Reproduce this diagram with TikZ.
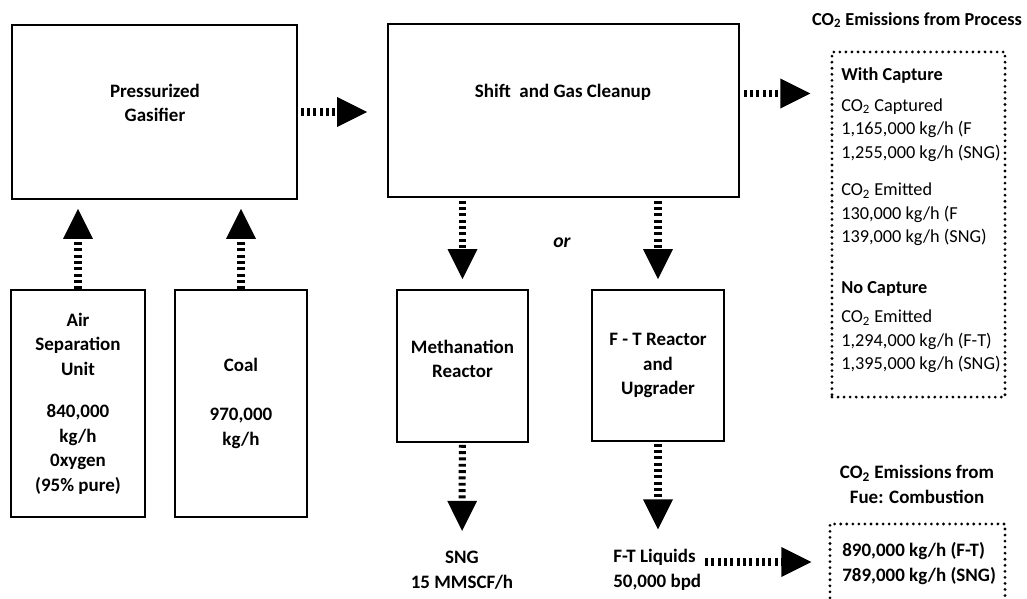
\documentclass[tikz,border=0pt]{standalone}
\usepackage{fontspec}
\setmainfont{Carlito}
\usetikzlibrary{arrows.meta,positioning,calc}

\tikzset{
    procbox/.style={draw, line width=1.1pt, inner sep=0pt},
    boxtext/.style={font=\bfseries\fontsize{13.5}{17.4}\selectfont, align=center, inner sep=0pt},
    paneltext/.style={font=\fontsize{13}{16.7}\selectfont, align=left, inner sep=0pt},
    dotpanel/.style={draw, line width=2.2pt, line cap=round, dash pattern=on 0pt off 4.3pt, inner sep=0pt},
    flow/.style={line width=5pt, dash pattern=on 2.1pt off 2.4pt,
        -{Triangle[length=0.75cm, width=0.75cm, line width=0pt]}},
}

\begin{document}
\begin{tikzpicture}[x=0.025cm, y=-0.025cm]
    \clip (0,0) rectangle (1027,599);

    % Gasification boxes
    \node[procbox, minimum width=7.125cm, minimum height=4.35cm] (gasifier) at (154.5,112) {};
    \node[boxtext] (gasifiertext) at (155,103) {Pressurized\\Gasifier};
    \node[procbox, minimum width=8.775cm, minimum height=4.325cm] (shift) at (563.5,110.5) {};
    \node[boxtext] (shifttext) at (563,92) {Shift~ and Gas Cleanup};

    % Feeds
    \node[procbox, boxtext, minimum width=3.35cm, minimum height=5.675cm] (asu) at (78,403.5)
        {Air\\Separation\\Unit\\[13pt]840,000\\kg/h\\0xygen\\(95\% pure)};
    \node[procbox, boxtext, minimum width=3.3cm, minimum height=5.675cm] (coal) at (241,403.5)
        {Coal\\[17.4pt]970,000\\kg/h};

    % Reactors
    \node[procbox, minimum width=3.275cm, minimum height=3.8cm] (methanation) at (462.5,366) {};
    \node[boxtext] (methanationtext) at (462.5,359) {Methanation\\Reactor};
    \node[procbox, boxtext, minimum width=3.3cm, minimum height=3.775cm] (ftreactor) at (658,365.5)
        {F - T Reactor\\and\\Upgrader};
    \node[font=\bfseries\itshape\fontsize{14}{16}\selectfont, inner sep=0pt] (ortext) at (562,243) {or};

    % Products
    \node[boxtext] (sng) at (462,570) {SNG\\15 MMSCF/h};
    \node[boxtext, align=left, anchor=west] (ftliquids) at (613,570) {F-T Liquids\\50,000 bpd};

    % CO2 from process
    \node[boxtext, font=\bfseries\fontsize{13}{16}\selectfont] (processtitle) at (917,20)
        {CO\textsubscript{2} Emissions from Process};
    \node[dotpanel, minimum width=4.325cm, minimum height=8.625cm] (process) at (918.5,224.5) {};
    \node[paneltext, anchor=north west] (processtext) at (841,67)
        {\textbf{With Capture}\\[5.3pt]
         CO\textsubscript{2} Captured\\
         1,165,000 kg/h (F\\
         1,255,000 kg/h (SNG)\\[10.3pt]
         CO\textsubscript{2} Emitted\\
         130,000 kg/h (F\\
         139,000 kg/h (SNG)\\[19.6pt]
         \textbf{No Capture}\\[3.9pt]
         CO\textsubscript{2} Emitted\\
         1,294,000 kg/h (F-T)\\
         1,395,000 kg/h (SNG)};

    % CO2 from fuel combustion
    \node[boxtext, font=\bfseries\fontsize{13.5}{17.8}\selectfont] (combustiontitle) at (917,484)
        {CO\textsubscript{2} Emissions from\\Fue: Combustion};
    \node[dotpanel, minimum width=4.375cm, minimum height=2.4cm] (combustion) at (917.5,572) {};
    \node[boxtext, align=left, anchor=west, font=\bfseries\fontsize{13.5}{17.8}\selectfont]
        (combustiontext) at (842,564) {890,000 kg/h (F-T)\\789,000 kg/h (SNG)};

    % Flows
    \draw[flow, shorten >=0.225cm] (asu) -- (gasifier.south -| asu);
    \draw[flow, shorten >=0.225cm] (coal) -- (gasifier.south -| coal);
    \draw[flow, shorten <=0.075cm, shorten >=0.5cm] (gasifier.east) -- (gasifier.east -| shift.west);
    \coordinate (ccout) at ($(shift.east)+(0,-17)$);
    \draw[flow, shorten <=0.1cm, shorten >=0.5cm] (ccout) -- (ccout -| process.west);
    \draw[flow, shorten <=0.075cm, shorten >=0.25cm] (shift.south -| methanation) -- (methanation);
    \draw[flow, shorten <=0.075cm, shorten >=0.25cm] (shift.south -| ftreactor) -- (ftreactor);
    \draw[flow, shorten <=0.05cm, shorten >=0.5cm] (methanation) -- (sng);
    \draw[flow, shorten <=0.05cm, shorten >=0.5cm] (ftreactor) -- (ftreactor |- ftliquids.north);
    \coordinate (ftout) at (705,562);
    \draw[flow, shorten >=0.425cm] (ftout) -- (ftout -| combustion.west);
\end{tikzpicture}
\end{document}
